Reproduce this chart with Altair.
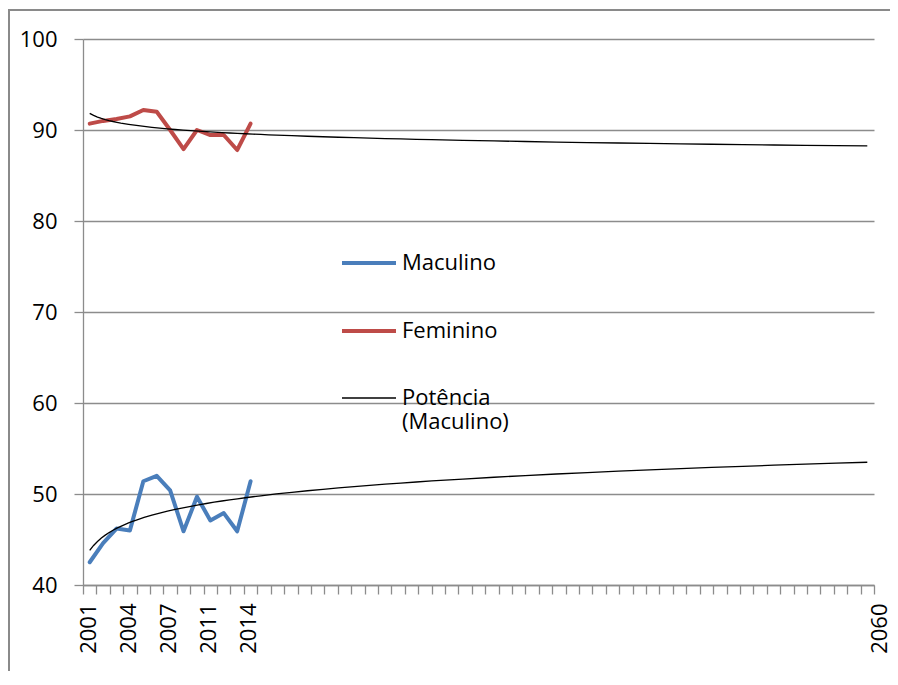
import altair as alt
import pandas as pd

# ---- data ----
years = ["2001", "2002", "2003", "2004", "2005", "2006", "2007",
         "2008", "2009", "2011", "2012", "2013", "2014"]
n_categories = 59            # 2001 ... 2060 category slots on the x axis
last_year_label = "2060"
label_every = 3
maculino = [42.5, 44.6, 46.2, 46.0, 51.4, 52.0, 50.4, 45.9, 49.7, 47.1, 47.9, 45.9, 51.4]
feminino = [90.7, 91.0, 91.2, 91.5, 92.2, 92.0, 90.0, 87.9, 90.0, 89.45, 89.45, 87.8, 90.7]
series_names = ["Maculino", "Feminino", "Potência (Maculino)"]
series_colors = ["#4A7EBB", "#BE4B48", "#000000"]
series_widths = [4, 4, 1.3]
y_ticks = [40, 50, 60, 70, 80, 90, 100]

rows = []
for i, (m, f) in enumerate(zip(maculino, feminino)):
    rows.append({"idx": i + 1, "year": years[i], "value": m, "series": "Maculino"})
    rows.append({"idx": i + 1, "year": years[i], "value": f, "series": "Feminino"})
df = pd.DataFrame(rows)

# x axis: ticks between categories, labels every 3rd year and the last one
tick_values = [i + 0.5 for i in range(n_categories + 1)]
label_pairs = [(i + 0.5, years[i]) for i in range(0, len(years), label_every)]
label_pairs.append((n_categories + 0.5, last_year_label))
label_expr = "".join(f"datum.value == {v} ? '{t}' : " for v, t in label_pairs) + "''"

FONT = "Open Sans"
GRAY = "#8c8c8c"

x_enc = alt.X(
    "idx:Q",
    scale=alt.Scale(domain=[0.5, n_categories + 0.5], nice=False, zero=False),
    axis=alt.Axis(
        values=tick_values, labelExpr=label_expr, title=None, grid=False,
        tickSize=9, tickColor=GRAY, tickWidth=1.3, domainColor=GRAY, domainWidth=1.3,
        labelAngle=270, labelAlign="right", labelBaseline="middle",
        labelOffset=5, labelPadding=9, labelFont=FONT, labelFontSize=22,
        labelColor="#000000", labelOverlap=False, labelFlush=False, labelBound=False,
    ),
)
y_enc = alt.Y(
    "value:Q",
    scale=alt.Scale(domain=[40, 100], nice=False, zero=False),
    axis=alt.Axis(
        values=y_ticks, title=None, grid=True, gridColor=GRAY, gridWidth=1.3,
        tickSize=9, tickColor=GRAY, tickWidth=1.3, domainColor=GRAY, domainWidth=1.3,
        labelFont=FONT, labelFontSize=22, labelColor="#000000", labelPadding=17,
    ),
)
legend = alt.Legend(
    title=None, orient="none", legendX=257, legendY=195,
    symbolType="stroke", symbolSize=2916, labelOffset=4, rowPadding=28, padding=0,
    labelFont=FONT, labelFontSize=22, labelColor="#000000", labelLimit=400,
    labelExpr="datum.label == 'Potência (Maculino)' ? ['Potência', '', '(Maculino)'] : datum.label",
)
color_enc = alt.Color("series:N", scale=alt.Scale(domain=series_names, range=series_colors), legend=legend)
width_enc = alt.StrokeWidth(
    "series:N",
    scale=alt.Scale(type="ordinal", domain=series_names, range=series_widths),
    legend=legend,
)

base = alt.Chart(df)

lines = base.mark_line(strokeJoin="round", strokeCap="round").encode(
    x=x_enc, y=y_enc, color=color_enc, strokeWidth=width_enc, detail="series:N"
)

trend_m = (
    base.transform_filter(alt.datum.series == "Maculino")
    .transform_regression("idx", "value", method="pow", extent=[1, n_categories])
    .transform_calculate(series="'Potência (Maculino)'")
    .mark_line()
    .encode(x=x_enc, y=y_enc, color=color_enc, strokeWidth=width_enc)
)

trend_f = (
    base.transform_filter(alt.datum.series == "Feminino")
    .transform_regression("idx", "value", method="pow", extent=[1, n_categories])
    .mark_line(color="#000000", strokeWidth=1.3)
    .encode(x=x_enc, y=y_enc)
)

frame = alt.Chart(pd.DataFrame({"k": [0]})).mark_rect(
    filled=False, stroke="#8a8a8a", strokeWidth=2
).encode(x=alt.value(-74), y=alt.value(-29), x2=alt.value(900), y2=alt.value(800))

chart = (
    alt.layer(lines, trend_m, trend_f, frame)
    .properties(
        width=791, height=546,
        autosize=alt.AutoSizeParams(type="none"),
        padding={"left": 75, "top": 31, "right": 16, "bottom": 86},
    )
    .configure_view(stroke=None)
    .configure_legend(labelFontSize=22)
)

chart.save("out.html", embed_options={"renderer": "svg", "actions": False})
